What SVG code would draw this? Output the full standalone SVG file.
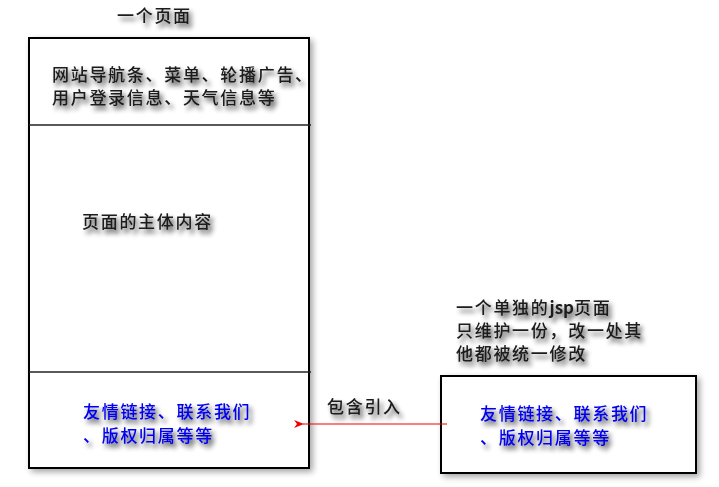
<svg xmlns="http://www.w3.org/2000/svg" width="719" height="487" viewBox="0 0 719 487">
<style>
text{font-family:"Noto Sans CJK SC","Noto Sans CJK JP",sans-serif;font-size:17px;letter-spacing:1.7px;font-weight:500}
.d{fill:#1a1a1a}
.b{fill:#0000ee}
.box{fill:#fff;stroke:#000;stroke-width:2}
.sep{stroke:#222;stroke-width:1.5}
.sh{filter:url(#ts)}
.bs{filter:url(#bs)}
</style>
<defs>
<filter id="ts" x="-20%" y="-50%" width="140%" height="220%"><feGaussianBlur in="SourceAlpha" stdDeviation="2.5"/><feOffset dx="3" dy="4"/><feComponentTransfer><feFuncA type="linear" slope="0.75"/></feComponentTransfer><feMerge><feMergeNode/><feMergeNode in="SourceGraphic"/></feMerge></filter>
<filter id="bs" x="-10%" y="-10%" width="120%" height="120%"><feGaussianBlur in="SourceAlpha" stdDeviation="3"/><feOffset dx="3" dy="3"/><feComponentTransfer><feFuncA type="linear" slope="0.35"/></feComponentTransfer><feMerge><feMergeNode/><feMergeNode in="SourceGraphic"/></feMerge></filter>
<marker id="ah" viewBox="0 0 10 10" refX="1" refY="5" markerWidth="10" markerHeight="10" markerUnits="userSpaceOnUse" orient="auto"><path d="M10,1 L0,5 L10,9 L7,5 Z" fill="#e00"/></marker>
</defs>
<g id="title"><text class="d sh" x="117" y="22">一个页面</text></g>
<g id="page">
<rect class="box bs" x="29" y="38" width="280" height="430"/>
<line class="sep" x1="29" y1="125" x2="311" y2="125"/>
<line class="sep" x1="29" y1="372" x2="311" y2="372"/>
</g>
<g id="header"><text class="d sh" x="52" y="81">网站导航条、菜单、轮播广告、</text><text class="d sh" x="52" y="104">用户登录信息、天气信息等</text></g>
<g id="body"><text class="d sh" x="82" y="228">页面的主体内容</text></g>
<g id="footer"><text class="b sh" x="83" y="418">友情链接、联系我们</text><text class="b sh" x="83" y="442">、版权归属等等</text></g>
<g id="note"><text class="d sh" x="456" y="314">一个单独的<tspan font-weight="bold" letter-spacing="0">jsp</tspan>页面</text><text class="d sh" x="456" y="337">只维护一份，改一处其</text><text class="d sh" x="456" y="360">他都被统一修改</text></g>
<g id="jsp">
<rect class="box bs" x="441" y="376" width="255" height="97"/>
<text class="b sh" x="480" y="420">友情链接、联系我们</text><text class="b sh" x="480" y="444">、版权归属等等</text>
</g>
<g id="connectors">
<line x1="447" y1="424" x2="303" y2="424" stroke="#e00" stroke-width="1" marker-end="url(#ah)"/>
<text class="d sh" x="327" y="413">包含引入</text>
</g>
</svg>
